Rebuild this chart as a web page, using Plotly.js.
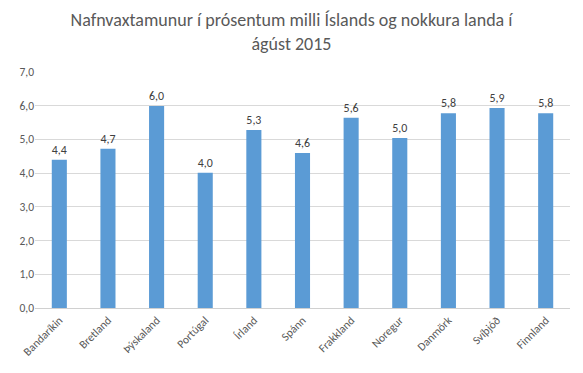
<!DOCTYPE html>
<html><head><meta charset="utf-8">
<script src="https://cdn.plot.ly/plotly-3.0.1.min.js"></script>
<style>html,body{margin:0;padding:0;background:#fff}#c{width:583px;height:373px}</style>
</head><body><div id="c"></div>
<script>
const countries = ["Bandaríkin","Bretland","Þýskaland","Portúgal","Írland","Spánn","Frakkland","Noregur","Danmörk","Svíþjóð","Finnland"];
const values = [4.4, 4.72, 5.99, 4.01, 5.28, 4.6, 5.64, 5.04, 5.78, 5.93, 5.78];
const yTicks = [0,1,2,3,4,5,6,7];

const font = "Calibri, Carlito, 'Open Sans', sans-serif";
Plotly.newPlot('c', [{
  type: 'bar', x: countries, y: values,
  marker: {color: '#5B9BD5'},
  texttemplate: '%{y:.1f}', textposition: 'outside', cliponaxis: false,
  textfont: {size: 12, color: '#404040', family: font},
  hoverinfo: 'none'
}], {
  width: 583, height: 373,
  separators: ', ',
  margin: {l: 35, r: 13, t: 72, b: 65},
  bargap: 0.69,
  paper_bgcolor: '#fff', plot_bgcolor: '#fff',
  title: {text: 'Nafnvaxtamunur í prósentum milli Íslands og nokkura landa í<br>ágúst 2015',
    font: {size: 18, color: '#595959', family: font}, x: 0.5, xanchor: 'center', y: 0.93, yanchor: 'top', yref: 'container'},
  xaxis: {tickangle: -45, tickfont: {size: 11.5, color: '#595959', family: font}, showline: true, linecolor: '#d0d0d0', linewidth: 1, ticks: '', fixedrange: true},
  yaxis: {range: [0, 7], tickvals: yTicks, tickformat: '.1f', tickfont: {size: 11.5, color: '#595959', family: font},
    gridcolor: '#d9d9d9', gridwidth: 1, zeroline: false, showline: false, ticks: '', fixedrange: true},
  showlegend: false
}, {staticPlot: true});
</script></body></html>
